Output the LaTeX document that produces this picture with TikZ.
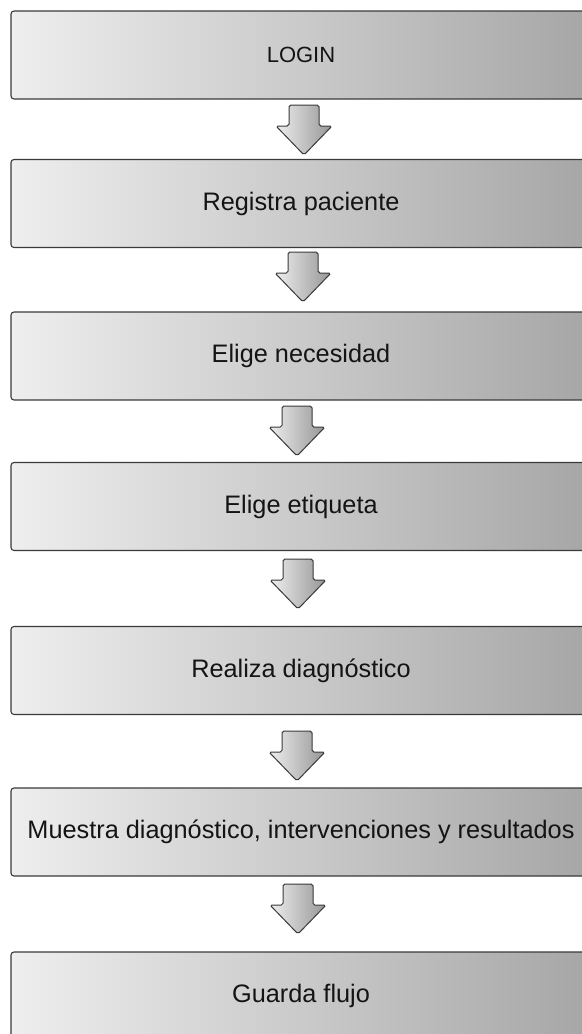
\documentclass[tikz,border=0pt]{standalone}
\usepackage{fontspec}
\setmainfont{Liberation Sans}
\definecolor{boxL}{HTML}{EEEEEE}
\definecolor{boxR}{HTML}{A6A6A6}
\definecolor{edge}{HTML}{3A3A3A}
\definecolor{txt}{HTML}{141414}
\begin{document}
\begin{tikzpicture}[x=1bp,y=-1bp,
  stepbox/.style={draw=edge, line width=1.1bp, rounded corners=3bp,
    left color=boxL, right color=boxR, minimum width=580bp, minimum height=88bp,
    inner sep=0pt, text=txt, font=\fontsize{25.3bp}{29bp}\selectfont},
  blockarr/.style={draw=edge, line width=1bp, rounded corners=1.8bp,
    left color=boxL!95!white, right color=boxR!90!black}]
\useasboundingbox (0,0) rectangle (582,1034);
\clip (0,0) rectangle (582,1034);
\node[stepbox, font=\fontsize{22bp}{26bp}\selectfont] (b1) at (301,55) {LOGIN};
\node[stepbox] (b2) at (301,203.5) {Registra paciente};
\node[stepbox] (b3) at (301,356) {Elige necesidad};
\node[stepbox] (b4) at (301,506.5) {Elige etiqueta};
\node[stepbox] (b5) at (301,670.5) {Realiza diagnóstico};
\node[stepbox] (b6) at (301,832) {Muestra diagnóstico, intervenciones y resultados};
\node[stepbox] (b7) at (301,996) {Guarda flujo};
\coordinate (a1) at (304,105);
\coordinate (a2) at (303,252);
\coordinate (a3) at (297,406);
\coordinate (a4) at (298,559);
\coordinate (a5) at (297,731);
\coordinate (a6) at (298,884);
\foreach \a in {a1,a2,a3,a4,a5,a6}{
  \draw[blockarr] (\a) ++(-15,0) -- ++(30,0) -- ++(0,21) -- ++(13,0) -- ++(-28,29) -- ++(-28,-29) -- ++(13,0) -- cycle;
}
\end{tikzpicture}
\end{document}
